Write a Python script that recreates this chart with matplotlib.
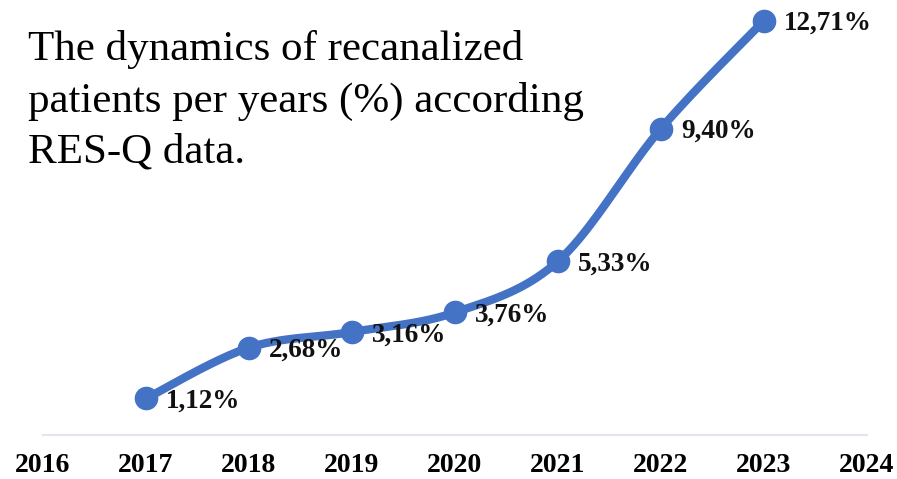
import numpy as np
import matplotlib
matplotlib.use("Agg")
import matplotlib.pyplot as plt

years = [2017, 2018, 2019, 2020, 2021, 2022, 2023]
values = [1.12, 2.68, 3.16, 3.76, 5.33, 9.40, 12.71]
labels = ["1,12%", "2,68%", "3,16%", "3,76%", "5,33%", "9,40%", "12,71%"]
tick_years = [2016, 2017, 2018, 2019, 2020, 2021, 2022, 2023, 2024]
title = "The dynamics of recanalized\npatients per years (%) according\nRES-Q data."

color = "#4472C4"
serif = ["Liberation Serif", "DejaVu Serif"]

fig = plt.figure(figsize=(8.97, 4.79), dpi=100)
ax = fig.add_axes([43/897, 44/479, (867-43)/897, 435/479])

# Excel-like smoothed line (Bezier with Catmull-Rom control points)
P = np.column_stack([years, values]).astype(float)
n = len(P)
xs, ys = [], []
t = np.linspace(0, 1, 40)
for i in range(n - 1):
    p0 = P[i - 1] if i > 0 else P[i]
    p1 = P[i]
    p2 = P[i + 1]
    p3 = P[i + 2] if i + 2 < n else P[i + 1]
    c1 = p1 + (p2 - p0) / 6
    c2 = p2 - (p3 - p1) / 6
    seg = ((1 - t)[:, None] ** 3 * p1 + 3 * ((1 - t) ** 2 * t)[:, None] * c1
           + 3 * ((1 - t) * t ** 2)[:, None] * c2 + (t ** 3)[:, None] * p2)
    xs.extend(seg[:, 0]); ys.extend(seg[:, 1])
ax.plot(xs, ys, color=color, lw=6, solid_capstyle="round", zorder=2)
ax.plot(years, values, "o", color=color, ms=16, zorder=3)

for x, y, lab in zip(years, values, labels):
    ax.annotate(lab, (x, y), xytext=(14.5, -2), textcoords="offset points",
                ha="left", va="center", fontsize=19.5, fontweight="bold",
                family=serif, color="#111111")

ax.set_xlim(2016, 2024)
ax.set_ylim(0, 435/32.6)
ax.set_xticks(tick_years)
ax.set_xticklabels([str(y) for y in tick_years], fontsize=20, fontweight="bold",
                   family=serif)
ax.tick_params(axis="x", length=0, pad=13)
ax.set_yticks([])
for s in ["top", "right", "left"]:
    ax.spines[s].set_visible(False)
ax.spines["bottom"].set_color("#E3E6EC")
ax.spines["bottom"].set_linewidth(1.5)

fig.text(28/897, 1 - 30/479, title, ha="left", va="top", fontsize=31,
         family=serif, linespacing=1.42)

fig.savefig("out.png", dpi=100)
